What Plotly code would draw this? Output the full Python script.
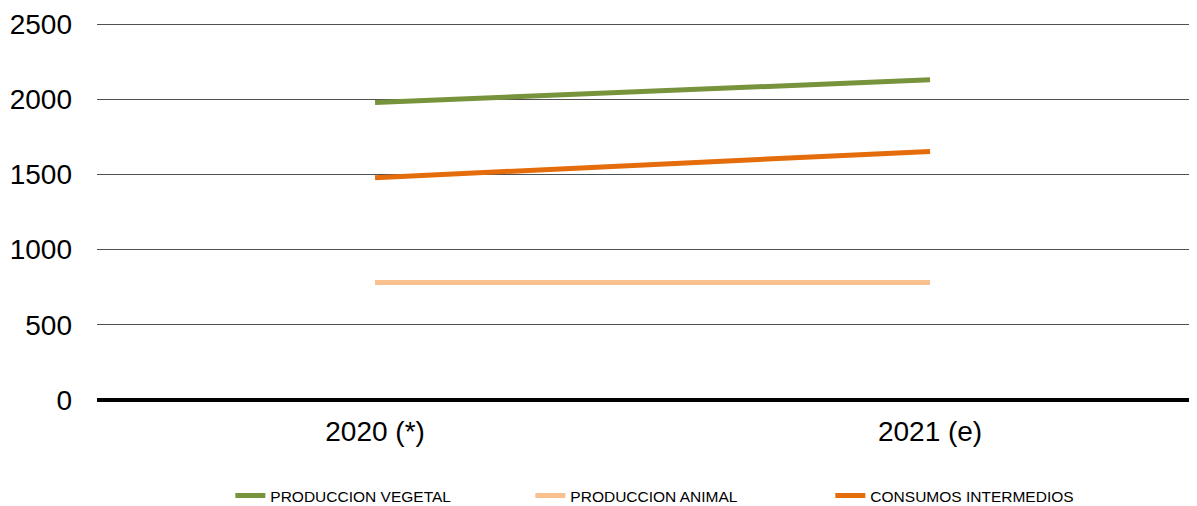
import plotly.graph_objects as go

categories = ["2020 (*)", "2021 (e)"]
produccion_vegetal = [1978, 2129]
produccion_animal = [782, 782]
consumos_intermedios = [1478, 1653]
series_names = ["PRODUCCION VEGETAL", "PRODUCCION ANIMAL", "CONSUMOS INTERMEDIOS"]
series_colors = ["#77933C", "#FAC090", "#E46C0A"]
y_ticks = [0, 500, 1000, 1500, 2000, 2500]

fig = go.Figure()
x_idx = list(range(len(categories)))
for name, vals, col in zip(series_names,
                           [produccion_vegetal, produccion_animal, consumos_intermedios],
                           series_colors):
    fig.add_trace(go.Scatter(x=x_idx, y=vals, mode="lines", name=name,
                             line=dict(color=col, width=5)))

# page has an 8px body margin; figure sized to fit the 1197x506 window
fig.update_layout(
    width=1189, height=498,
    margin=dict(l=89, r=0, t=13, b=106, autoexpand=False),
    plot_bgcolor="white", paper_bgcolor="white",
    font=dict(family="Liberation Sans, Arial, sans-serif", color="black"),
    showlegend=True,
    legend=dict(orientation="h", xref="container", x=0.187, xanchor="left",
                y=-0.253, yanchor="middle",
                font=dict(family="Liberation Sans, Arial", size=15.5),
                traceorder="normal", entrywidth=255, entrywidthmode="pixels"),
    xaxis=dict(range=[-0.501, 1.481], tickmode="array", tickvals=x_idx, ticktext=categories,
               showgrid=False, zeroline=False, showline=False, automargin=False,
               tickfont=dict(size=28), ticks="", ticklabelstandoff=12),
    yaxis=dict(range=[0, 2520], tickvals=y_ticks, showgrid=True, gridcolor="#505050",
               gridwidth=1, zeroline=True, zerolinecolor="black", zerolinewidth=4,
               showline=False, automargin=False, tickfont=dict(size=28), ticks="",
               ticklabelstandoff=24),
)

fig.write_html("out.html")
